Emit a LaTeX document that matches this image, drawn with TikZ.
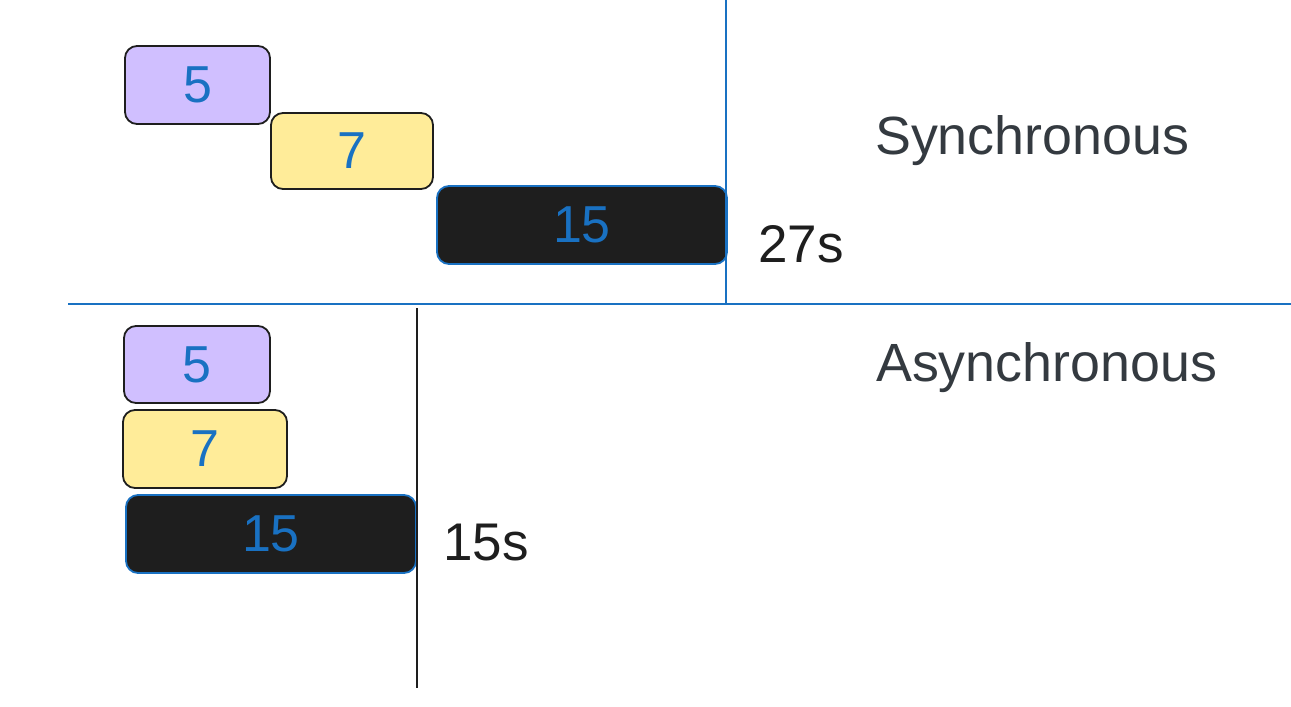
\documentclass[tikz,border=0pt]{standalone}
\usepackage{fontspec}
\setmainfont{Liberation Sans}
\definecolor{violetfill}{HTML}{D0BFFF}
\definecolor{yellowfill}{HTML}{FFEC99}
\definecolor{inkblack}{HTML}{1E1E1E}
\definecolor{inkblue}{HTML}{1971C2}
\definecolor{inkgray}{HTML}{343A40}
\tikzset{
  task/.style={rectangle, rounded corners=12pt, line width=1.8pt, inner sep=0pt,
    text=inkblue, font=\fontsize{52}{52}\selectfont},
  violettask/.style={task, draw=inkblack, fill=violetfill},
  yellowtask/.style={task, draw=inkblack, fill=yellowfill},
  blacktask/.style={task, draw=inkblue, fill=inkblack},
  title/.style={anchor=base west, inner sep=0pt, text=inkgray, font=\fontsize{53.8}{54}\selectfont},
  total/.style={anchor=base west, inner sep=0pt, text=inkblack, font=\fontsize{53}{53}\selectfont},
  blueline/.style={draw=inkblue, line width=1.5pt},
  blackline/.style={draw=inkblack, line width=1.6pt}
}
\begin{document}
\begin{tikzpicture}[x=1pt,y=-1pt]
\useasboundingbox[fill=white] (0,0) rectangle (1291,707);
% top: synchronous
\node[violettask, minimum width=145pt, minimum height=78pt] (s5) at (197.5,85) {5};
\node[yellowtask, minimum width=162pt, minimum height=76pt] (s7) at (352,151) {7};
\node[blacktask, minimum width=290pt, minimum height=78pt] (s15) at (582,225) {15};
\node[title] (sync) at (875,154) {Synchronous};
\node[total] (t27) at (758,262) {27s};
% bottom: asynchronous
\node[violettask, minimum width=146pt, minimum height=77pt] (a5) at (197,364.5) {5};
\node[yellowtask, minimum width=164pt, minimum height=78pt] (a7) at (205,449) {7};
\node[blacktask, minimum width=290pt, minimum height=78pt] (a15) at (271,534) {15};
\node[title] (async) at (876,381) {Asynchronous};
\node[total] (t15) at (443,560) {15s};
% lines
\coordinate (vtop) at (726,0);
\coordinate (vbot) at (726,305);
\coordinate (hl) at (68,304);
\coordinate (hr) at (1291,304);
\coordinate (btop) at (417,308);
\coordinate (bbot) at (417,688);
\draw[blueline] (vtop) -- (vbot);
\draw[blueline] (hl) -- (hr);
\draw[blackline] (btop) -- (bbot);
\end{tikzpicture}
\end{document}
